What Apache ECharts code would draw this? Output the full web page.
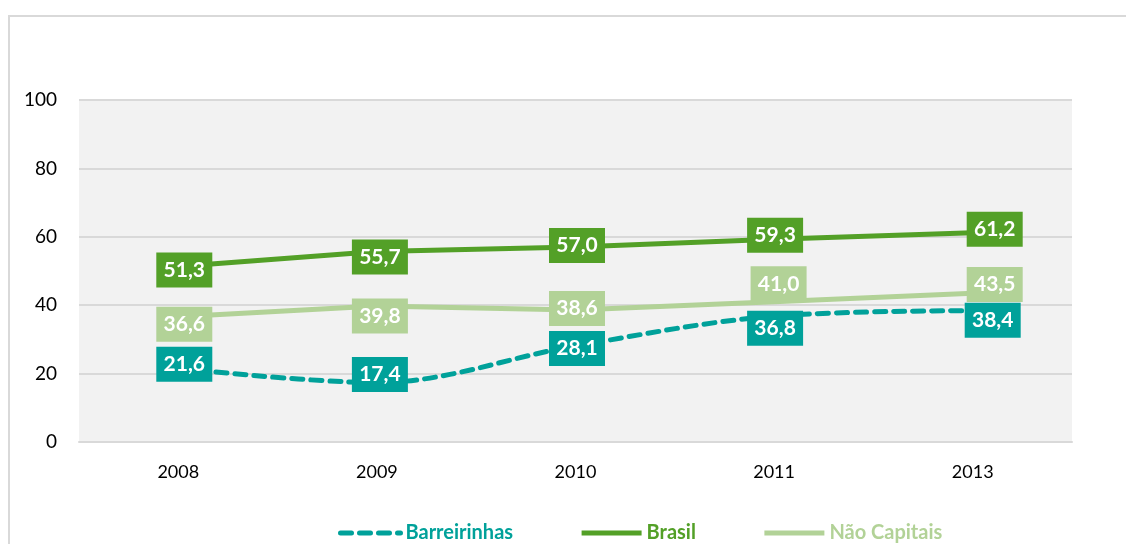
<!DOCTYPE html>
<html>
<head>
<meta charset="utf-8">
<script src="https://cdn.jsdelivr.net/npm/echarts@6/dist/echarts.min.js"></script>
<style>
  html, body { margin: 0; padding: 0; background: #fff; }
  #chart { width: 1126px; height: 544px; }
</style>
</head>
<body>
<div id="chart"></div>
<script>
const years = ["2008", "2009", "2010", "2011", "2013"];
const barreirinhas = [21.6, 17.4, 28.1, 36.8, 38.4];
const brasil = [51.3, 55.7, 57.0, 59.3, 61.2];
const naoCapitais = [36.6, 39.8, 38.6, 41.0, 43.5];
const yTicks = [0, 20, 40, 60, 80, 100];

// where Excel put each value box, relative to its point
const shiftBarreirinhas = [[6, -4], [3, -8], [1.5, 2.5], [1, 12], [20, 9.5]];
const shiftBrasil = [[6, 3.5], [3, 5.5], [1.5, -1.5], [1, -4], [22, -3.5]];
const shiftNao = [[6, 7.5], [3, 10], [1.5, -1.5], [4.5, -18], [22, -8.7]];

const FONT = "Lato, 'Open Sans', sans-serif";

function withLabels(values, shifts) {
  return values.map((v, i) => ({
    value: v,
    label: { offset: shifts[i] },
  }));
}

function labelStyle(color) {
  return {
    show: true,
    position: "inside",
    formatter: (p) => p.value.toFixed(1).replace(".", ","),
    color: "#fff",
    fontFamily: FONT,
    fontWeight: "bold",
    fontSize: 21,
    backgroundColor: color,
    width: 56,
    height: 35,
    lineHeight: 35,
    align: "center",
    verticalAlign: "middle",
  };
}

function makeSeries(name, values, shifts, color, dashed) {
  return {
    name: name,
    type: "line",
    data: withLabels(values, shifts),
    symbol: "circle",
    symbolSize: 0.1,
    smooth: dashed ? 0.35 : false,
    itemStyle: { color: color },
    lineStyle: {
      color: color,
      width: 5,
      type: dashed ? [11, 8] : "solid",
      cap: dashed ? "round" : "butt",
    },
    label: labelStyle(color),
    emphasis: { disabled: true },
    animation: false,
  };
}

const chart = echarts.init(document.getElementById("chart"));
chart.setOption({
  backgroundColor: "#fff",
  animation: false,
  graphic: [
    {
      type: "rect",
      shape: { x: 9, y: 16, width: 1300, height: 700 },
      style: { fill: null, stroke: "#d9d9d9", lineWidth: 2 },
      silent: true,
    },
  ],
  grid: {
    left: 79,
    right: 54,
    top: 100,
    bottom: 102,
    show: true,
    backgroundColor: "#f2f2f2",
    borderWidth: 0,
  },
  legend: {
    left: 333,
    top: 518,
    itemWidth: 60,
    itemHeight: 14,
    itemGap: 66,
    itemStyle: { opacity: 0 },
    lineStyle: { width: 5 },
    textStyle: { fontFamily: FONT, fontWeight: "bold", fontSize: 20 },
    data: [
      { name: "Barreirinhas", textStyle: { color: "#00a19a" } },
      { name: "Brasil", textStyle: { color: "#53a027" } },
      { name: "Não Capitais", textStyle: { color: "#b2d297" } },
    ],
  },
  xAxis: {
    type: "category",
    data: years,
    boundaryGap: true,
    axisLine: { show: true, lineStyle: { color: "#d9d9d9", width: 2 } },
    axisTick: { show: false },
    axisLabel: { color: "#000", fontFamily: FONT, fontSize: 18, margin: 21 },
  },
  yAxis: {
    type: "value",
    min: yTicks[0],
    max: yTicks[yTicks.length - 1],
    interval: 20,
    axisLine: { show: false },
    axisTick: { show: false },
    axisLabel: { color: "#000", fontFamily: FONT, fontSize: 19, margin: 22 },
    splitLine: { lineStyle: { color: "#d9d9d9", width: 2 } },
  },
  series: [
    makeSeries("Barreirinhas", barreirinhas, shiftBarreirinhas, "#00a19a", true),
    makeSeries("Brasil", brasil, shiftBrasil, "#53a027", false),
    makeSeries("Não Capitais", naoCapitais, shiftNao, "#b2d297", false),
  ],
});
</script>
</body>
</html>
